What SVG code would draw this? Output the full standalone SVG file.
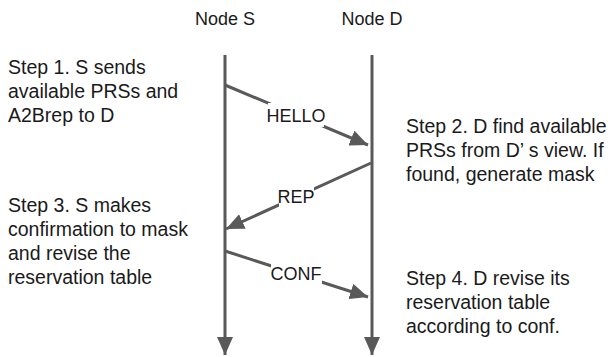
<svg xmlns="http://www.w3.org/2000/svg" width="611" height="357" viewBox="0 0 611 357">
<style>
.t{font-family:"Liberation Sans",Arial,sans-serif;font-size:18px;fill:#1a1a1a}
.s{font-size:19.5px}
.m{text-anchor:middle}
.ln{stroke:#595959;stroke-width:3;fill:none}
.bg{fill:#fff}
</style>
<defs>
<marker id="ah" markerUnits="userSpaceOnUse" markerWidth="18" markerHeight="16" refX="18" refY="8" orient="auto">
<path d="M0,0 L18,8 L0,16 z" fill="#595959"/>
</marker>
</defs>
<rect width="611" height="357" fill="#fff"/>
<g id="nodeS">
<text class="t m" x="225" y="25">Node S</text>
</g>
<g id="nodeD">
<text class="t m" x="372" y="25">Node D</text>
</g>
<g id="connectors">
<line class="ln" x1="225" y1="55" x2="225" y2="355" marker-end="url(#ah)"/>
<line class="ln" x1="372" y1="55" x2="372" y2="355" marker-end="url(#ah)"/>
<line class="ln" x1="225" y1="85" x2="368" y2="145" marker-end="url(#ah)"/>
<line class="ln" x1="371" y1="163" x2="226" y2="229" marker-end="url(#ah)"/>
<line class="ln" x1="225" y1="251" x2="368" y2="297" marker-end="url(#ah)"/>
<rect class="bg" x="268" y="103" width="56" height="24"/>
<text class="t m" x="296" y="122">HELLO</text>
<rect class="bg" x="279" y="184" width="35" height="24"/>
<text class="t m" x="296" y="203">REP</text>
<rect class="bg" x="271" y="261" width="51" height="24"/>
<text class="t m" x="296" y="280">CONF</text>
</g>
<g id="step1">
<text class="t s" x="8" y="74">Step 1. S sends</text>
<text class="t s" x="8" y="98">available PRSs and</text>
<text class="t s" x="8" y="122">A2Brep to D</text>
</g>
<g id="step2">
<text class="t s" x="406" y="133">Step 2. D find available</text>
<text class="t s" x="406" y="157">PRSs from D’ s view. If</text>
<text class="t s" x="406" y="181">found, generate mask</text>
</g>
<g id="step3">
<text class="t s" x="8" y="212">Step 3. S makes</text>
<text class="t s" x="8" y="236">confirmation to mask</text>
<text class="t s" x="8" y="260">and revise the</text>
<text class="t s" x="8" y="284">reservation table</text>
</g>
<g id="step4">
<text class="t s" x="406" y="285">Step 4. D revise its</text>
<text class="t s" x="406" y="309">reservation table</text>
<text class="t s" x="406" y="333">according to conf.</text>
</g>
</svg>
